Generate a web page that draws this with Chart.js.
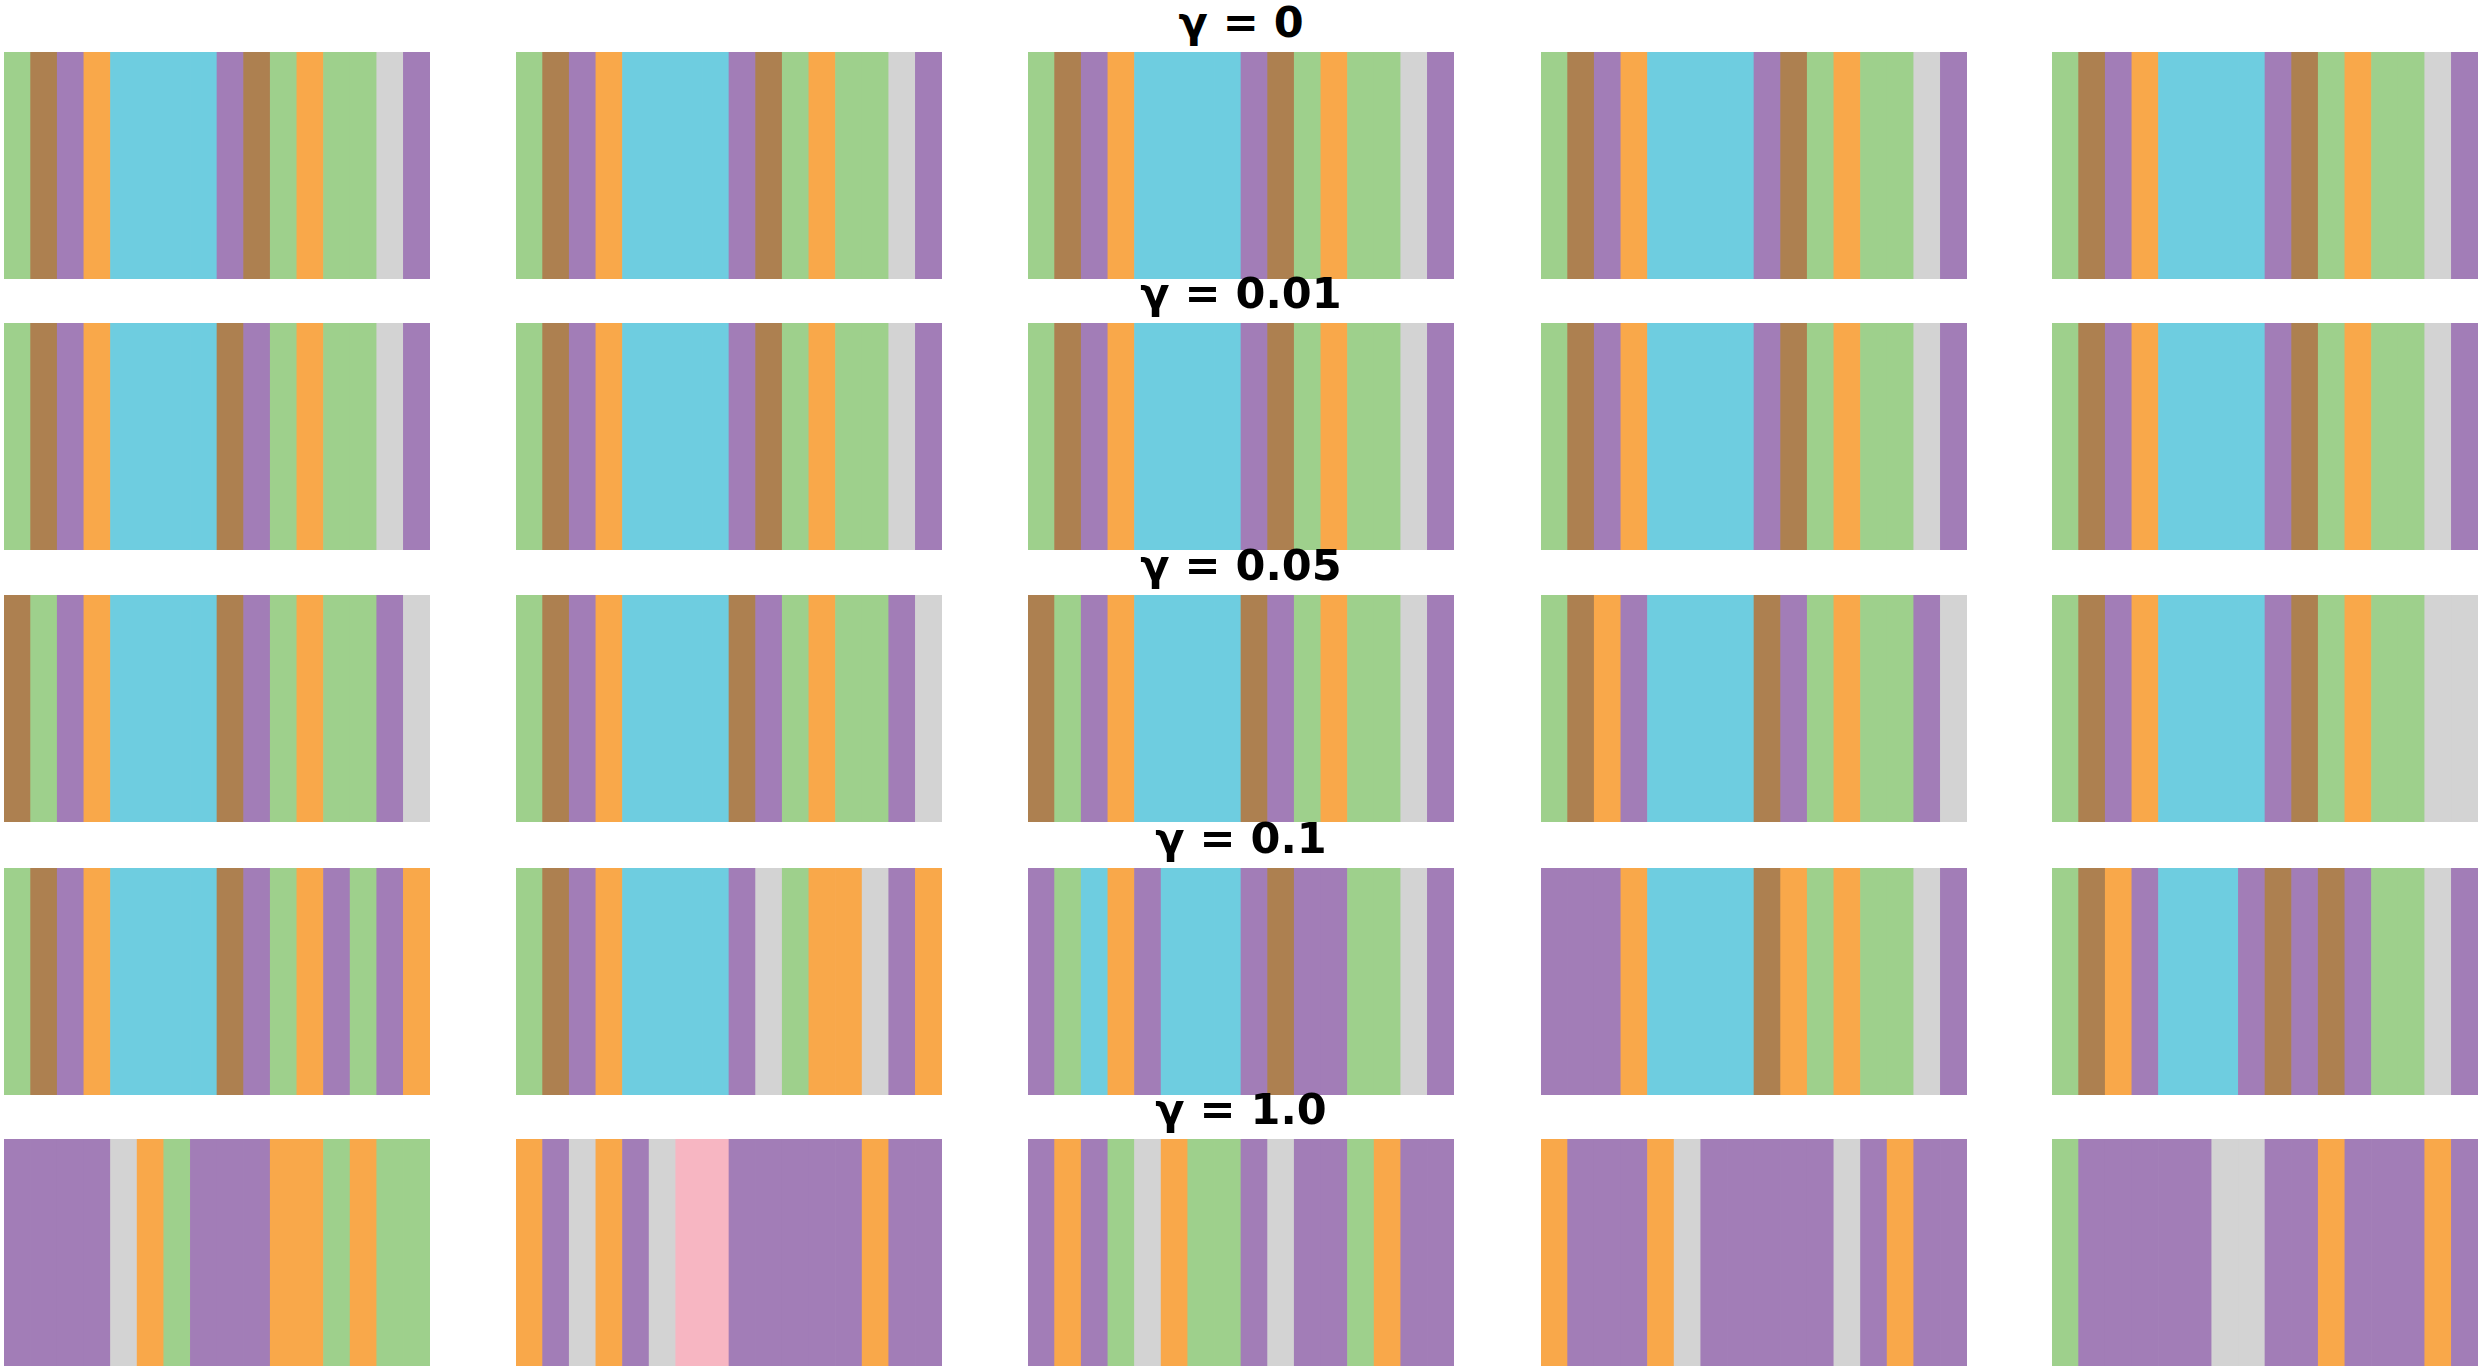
<!DOCTYPE html>
<html>
<head>
<meta charset="utf-8">
<script src="https://cdn.jsdelivr.net/npm/chart.js@4"></script>
<style>
  html, body { margin: 0; padding: 0; background: #fff; }
  #page { position: relative; width: 2483px; height: 1369px; overflow: hidden; }
  .strip { position: absolute; width: 426px; height: 227px; }
  .title {
    position: absolute; width: 426px; text-align: center;
    font-family: "DejaVu Sans", sans-serif; font-weight: bold; font-size: 43px;
    line-height: 1; color: #000;
  }
</style>
</head>
<body>
<div id="page"></div>
<script>
// row titles (one per gamma value)
var gammas = ['γ = 0', 'γ = 0.01', 'γ = 0.05', 'γ = 0.1', 'γ = 1.0'];

// cluster colours
var palette = {
  G: '#9ed08c', // green
  B: '#ad8050', // brown
  P: '#a27db7', // purple
  O: '#f9a84a', // orange
  C: '#6ecde0', // cyan
  S: '#d3d3d3', // grey
  K: '#f7b6c2'  // pink
};

// 16 time steps per strip, label of each step
var row0 = [
  'GBPOCCCCPBGOGGSP',
  'GBPOCCCCPBGOGGSP',
  'GBPOCCCCPBGOGGSP',
  'GBPOCCCCPBGOGGSP',
  'GBPOCCCCPBGOGGSP'
];
var row1 = [
  'GBPOCCCCBPGOGGSP',
  'GBPOCCCCPBGOGGSP',
  'GBPOCCCCPBGOGGSP',
  'GBPOCCCCPBGOGGSP',
  'GBPOCCCCPBGOGGSP'
];
var row2 = [
  'BGPOCCCCBPGOGGPS',
  'GBPOCCCCBPGOGGPS',
  'BGPOCCCCBPGOGGSP',
  'GBOPCCCCBPGOGGPS',
  'GBPOCCCCPBGOGGSS'
];
var row3 = [
  'GBPOCCCCBPGOPGPO',
  'GBPOCCCCPSGOOSPO',
  'PGCOPCCCPBPPGGSP',
  'PPPOCCCCBOGOGGSP',
  'GBOPCCCPBPBPGGSP'
];
var row4 = [
  'PPPPSOGPPPOOGOGG',
  'OPSOPSKKPPPPPOPP',
  'POPGSOGGPSPPGOPP',
  'OPPPOSPPPPPSPOPP',
  'GPPPPPSSPPOPPPOP'
];
var rows = [row0, row1, row2, row3, row4];

var colX = [4, 516, 1028, 1541, 2052];
var rowY = [52, 323, 595, 868, 1139];

document.addEventListener("DOMContentLoaded", function() {
  var page = document.getElementById('page');

  rows.forEach(function(row, r) {
    // title above the middle strip
    var t = document.createElement('div');
    t.className = 'title';
    t.textContent = gammas[r];
    t.style.left = colX[2] + 'px';
    t.style.top = (rowY[r] - 51) + 'px';
    page.appendChild(t);

    row.forEach(function(seq, c) {
      var cv = document.createElement('canvas');
      cv.className = 'strip';
      cv.width = 426;
      cv.height = 227;
      cv.style.left = colX[c] + 'px';
      cv.style.top = rowY[r] + 'px';
      page.appendChild(cv);

      var steps = seq.split('');
      new Chart(cv.getContext('2d'), {
        type: 'bar',
        data: {
          labels: steps.map(function(_, i) { return i; }),
          datasets: [{
            data: steps.map(function() { return 1; }),
            backgroundColor: steps.map(function(k) { return palette[k]; }),
            borderWidth: 0,
            barPercentage: 1,
            categoryPercentage: 1
          }]
        },
        options: {
          responsive: false,
          animation: false,
          layout: { padding: 0 },
          plugins: {
            legend: { display: false },
            tooltip: { enabled: false }
          },
          scales: {
            x: { display: false, offset: true },
            y: { display: false, min: 0, max: 1 }
          }
        }
      });
    });
  });
});
</script>
</body>
</html>
